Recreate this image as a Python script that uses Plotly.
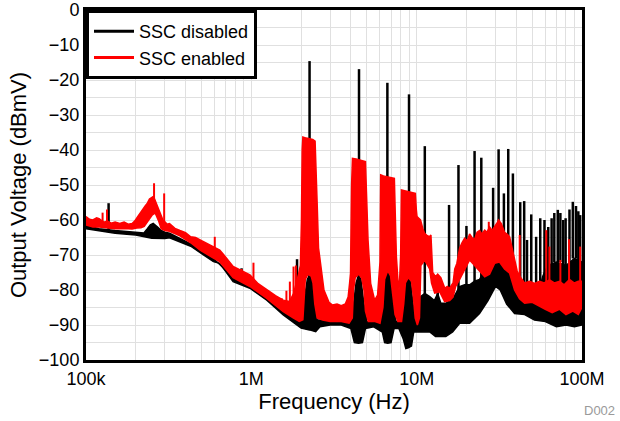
import plotly.graph_objects as go

# ---------------- data (frequencies in MHz, levels in dBmV) ----------------
red_up_f = [0.100,0.105,0.110,0.116,0.120,0.128,0.135,0.142,0.150,0.160,0.170,0.180,0.190,0.197,0.203,0.210,0.215,0.222,0.228,0.235,
            0.242,0.250,0.255,0.260,0.265,0.272,0.278,0.285,0.292,0.300,0.310,0.320,0.345,0.370,0.400,0.430,0.460,0.490,0.530,0.590,
            0.644,0.700,0.776,0.850,0.980,1.100,1.240,1.400,1.560,1.700,1.800,1.880,1.930,1.980,2.010,2.030,2.050,2.150,2.250,2.350,
            2.430,2.470,2.500,2.550,2.650,2.750,2.950,3.100,3.300,3.500,3.700,3.850,3.930,3.980,4.040,4.090,4.300,4.500,4.700,4.900,
            4.970,5.080,5.270,5.570,5.800,5.920,6.000,6.040,6.060,6.300,6.600,7.000,7.330,7.420,7.540,7.700,7.820,7.890,8.000,8.090,
            8.500,9.000,9.500,9.820,9.950,10.05,10.30,10.55,10.90,11.17,11.60,11.98,12.20,12.50,13.00,13.40,14.00,14.80,15.30,15.80,
            16.60,17.00,17.50,18.20,18.80,19.50,20.20,20.90,21.60,22.40,23.20,24.00,24.80,25.80,26.60,27.60,28.60,29.60,30.50,31.30,
            32.50,34.00,35.20,36.50,37.80,39.10,40.50,41.90,44.90,48.20,51.60,55.40,59.00,63.60,68.00,73.10,78.00,84.00,90.00,95.00,100.0]
red_up_db = [-59.0,-59.8,-60.0,-59.4,-59.6,-60.6,-60.3,-60.9,-60.6,-61.0,-60.6,-61.2,-61.0,-60.3,-59.4,-58.3,-57.5,-56.8,-56.0,-55.2,
             -54.0,-53.7,-53.3,-54.0,-55.0,-56.5,-57.8,-59.0,-60.0,-60.5,-61.2,-61.0,-62.4,-63.0,-63.6,-64.8,-65.0,-65.7,-66.5,-67.8,
             -68.6,-70.6,-73.3,-74.2,-75.7,-78.2,-80.0,-81.6,-82.9,-83.3,-81.0,-78.0,-75.5,-73.0,-60.0,-40.0,-36.3,-36.6,-36.8,-37.0,
             -37.5,-45.0,-55.0,-68.0,-75.0,-80.0,-83.5,-84.3,-84.0,-84.5,-84.0,-82.0,-78.0,-75.2,-50.0,-42.4,-42.6,-42.8,-43.0,-43.3,
             -52.0,-65.7,-78.1,-82.9,-81.5,-75.2,-72.0,-55.0,-47.1,-47.4,-47.6,-47.9,-48.1,-58.0,-70.5,-77.0,-80.0,-77.0,-70.0,-51.4,
             -51.7,-52.0,-52.2,-52.4,-57.0,-59.0,-59.5,-60.0,-62.5,-63.8,-64.5,-64.8,-64.3,-75.0,-76.2,-75.5,-76.5,-79.5,-79.0,-79.5,
             -78.0,-74.0,-72.4,-68.0,-66.5,-65.2,-66.0,-64.0,-65.0,-65.5,-63.5,-63.0,-64.0,-62.9,-63.5,-62.0,-63.0,-62.0,-61.0,-60.0,
             -61.0,-63.5,-64.0,-64.8,-68.0,-72.0,-74.5,-76.0,-78.0,-77.5,-78.1,-77.5,-78.0,-77.1,-78.0,-77.5,-78.5,-77.0,-78.0,-77.5,-77.5]

red_lo_f = [0.100,0.110,0.120,0.135,0.150,0.170,0.190,0.203,0.215,0.225,0.235,0.245,0.252,0.262,0.268,0.275,0.285,0.300,0.320,0.370,
            0.430,0.490,0.590,0.644,0.776,0.980,1.240,1.560,1.800,1.950,2.050,2.080,2.120,2.200,2.300,2.360,2.420,2.500,2.700,3.000,
            3.500,3.900,4.080,4.150,4.250,4.450,4.650,4.800,4.900,5.100,5.600,6.000,6.250,6.400,6.680,6.950,7.200,7.400,7.700,8.100,
            8.350,8.550,8.900,9.300,9.550,9.800,10.10,10.40,10.60,11.17,11.98,12.30,12.85,13.77,14.76,15.83,16.60,17.20,18.20,19.50,
            20.90,22.40,24.00,25.80,27.60,29.60,31.70,34.00,36.50,39.10,41.90,45.00,50.00,55.40,60.00,66.00,73.00,80.00,88.00,95.00,100.0]
red_lo_db = [-61.4,-62.0,-62.0,-62.3,-62.5,-62.4,-62.6,-62.3,-62.2,-61.8,-60.5,-59.2,-58.5,-58.0,-59.0,-60.3,-62.5,-63.0,-63.2,-64.5,
             -66.5,-68.6,-70.9,-71.9,-76.5,-79.0,-82.4,-86.2,-88.0,-89.0,-88.5,-82.0,-77.0,-75.5,-76.0,-78.0,-84.0,-88.0,-88.6,-89.0,
             -89.0,-89.5,-88.0,-80.0,-76.5,-75.5,-76.5,-80.0,-86.0,-89.0,-89.0,-89.5,-85.0,-77.0,-74.5,-76.0,-82.0,-87.0,-89.0,-89.0,
             -84.0,-78.0,-76.5,-77.5,-82.0,-88.0,-90.0,-88.0,-73.0,-71.5,-74.0,-78.0,-80.9,-80.5,-83.3,-83.0,-82.0,-79.0,-77.0,-74.3,
             -71.4,-73.0,-74.5,-76.2,-75.5,-72.4,-72.0,-74.0,-75.2,-80.0,-82.5,-83.8,-83.5,-84.5,-85.5,-86.5,-85.5,-87.0,-86.0,-87.0,-85.0]

black_up_f = [0.100,0.120,0.150,0.190,0.215,0.224,0.235,0.245,0.255,0.265,0.272,0.285,0.300,0.320,0.430,0.590,0.776,0.980,1.240,1.560,
              1.900,2.050,2.100,2.180,2.250,2.330,2.400,2.500,3.000,3.900,4.150,4.300,4.450,4.600,4.800,5.000,6.000,6.300,6.500,6.680,
              6.900,7.200,7.500,8.100,8.400,8.700,8.900,9.200,9.500,9.900,10.50,11.20,12.00,12.80,13.40,14.00,15.00,16.00,17.00,18.20,
              19.50,20.90,22.40,24.00,25.50,26.50,28.00,29.00,30.50,31.50,33.00,34.50,36.00,39.00,42.00,48.00,55.00,58.00,62.00,70.00,
              80.00,90.00,100.0]
black_up_db = [-61.5,-62.5,-63.0,-63.3,-63.5,-63.7,-62.5,-61.4,-61.0,-61.8,-62.1,-63.0,-63.5,-63.8,-66.8,-71.0,-76.3,-78.5,-82.0,-85.5,
               -88.0,-88.5,-82.0,-77.0,-75.7,-77.5,-83.0,-88.5,-89.0,-89.5,-84.0,-78.0,-75.7,-77.0,-84.0,-89.0,-89.5,-82.0,-76.0,-74.3,
               -76.0,-84.0,-89.0,-89.0,-82.0,-77.5,-76.2,-78.0,-84.0,-88.0,-82.0,-81.0,-81.9,-83.0,-81.0,-83.8,-83.8,-83.0,-81.5,-79.0,
               -78.5,-78.5,-77.5,-77.0,-74.5,-73.0,-71.0,-69.0,-68.0,-67.6,-68.0,-70.0,-72.0,-77.0,-80.0,-81.0,-80.0,-76.0,-73.0,-72.0,
               -73.0,-71.0,-72.0]

black_lo_f = [0.100,0.120,0.150,0.200,0.250,0.300,0.320,0.430,0.590,0.644,0.776,0.980,1.240,1.560,1.900,2.000,2.250,2.450,2.600,3.000,
              3.500,4.000,4.200,4.450,4.700,4.900,5.500,6.200,6.400,6.680,7.000,7.300,7.800,8.300,8.600,8.900,9.300,9.600,10.50,12.00,
              13.00,15.00,16.50,18.20,20.90,24.00,27.00,30.00,32.00,35.00,39.10,45.00,51.60,60.00,70.00,80.00,90.00,100.0]
black_lo_db = [-62.5,-63.0,-63.8,-64.3,-65.2,-65.3,-65.1,-67.5,-71.9,-72.4,-77.6,-79.5,-82.9,-87.1,-90.0,-90.9,-91.4,-91.9,-90.5,-90.0,
               -90.0,-91.0,-95.0,-95.2,-95.0,-91.0,-90.5,-92.0,-95.0,-95.2,-95.0,-91.0,-91.0,-94.0,-96.7,-96.5,-96.0,-92.0,-91.9,-92.0,
               -93.3,-93.3,-92.0,-89.5,-89.5,-86.7,-83.0,-79.0,-80.0,-84.0,-86.7,-87.0,-88.6,-89.0,-90.5,-90.0,-90.5,-90.0]

black_spike_f = [0.137,0.873,1.89,2.25,4.48,6.65,8.99,11.2,13.4,15.7,17.9,20.0,22.4,24.6,29.0,31.3,33.7,35.8,38.2,42.3,
                 44.7,46.5,49.3,52.8,55.9,59.3,62.5,65.5,68.0,71.4,74.0,77.0,79.6,84.0,88.0,92.0,95.0,97.5]
black_spike_top = [-55.2,-73.8,-71.2,-14.6,-16.9,-20.8,-24.1,-38.9,-80.0,-55.7,-44.3,-61.7,-40.3,-42.2,-50.8,-39.8,-52.4,-39.7,-46.7,-54.9,
                   -54.6,-65.7,-58.4,-64.8,-59.5,-60.0,-62.0,-59.5,-58.0,-57.1,-58.0,-60.0,-59.5,-57.0,-54.8,-56.0,-57.5,-58.6]
black_spike_base = [-63,-77,-88,-76,-76,-75,-77,-82,-88,-84,-82,-79,-78,-77,-70,-68,-69,-72,-76,-80,
                    -80,-80,-81,-80,-80,-76,-73,-73,-72,-72,-72,-73,-73,-72,-71,-71,-72,-72]

red_spike_f = [0.126,0.134,0.258,0.297,0.601,0.873,1.03,1.53,1.63,1.71,1.80,1.86,27.3,42.0,60.8,63.5,74.0,83.5,97.5]
red_spike_top = [-57.9,-57.0,-49.5,-52.4,-64.8,-74.0,-72.2,-82.4,-80.2,-77.6,-73.3,-73.0,-60.5,-64.3,-62.9,-67.6,-71.4,-65.5,-67.6]
red_spike_base = [-61,-61,-56,-61,-69,-75,-77,-85,-85,-85,-84,-84,-70,-80,-80,-80,-82,-80,-80]

x_tick_vals = [1e5, 1e6, 1e7, 1e8]
x_tick_text = ["100k", "1M", "10M", "100M"]
series_names = ["SSC disabled", "SSC enabled"]

BLACK = "#000000"
RED = "#ff0000"
HZ = 1e6


def hz(lst):
    return [v * HZ for v in lst]


def spikes(fs, tops, bases):
    xs, ys = [], []
    for f, t, b in zip(fs, tops, bases):
        xs += [f * HZ, f * HZ, None]
        ys += [b, t, None]
    return xs, ys


fig = go.Figure()


def add_series(up_f, up_db, lo_f, lo_db, sp_f, sp_top, sp_base, color, spw):
    fig.add_trace(go.Scatter(x=hz(up_f), y=up_db, mode="lines", line=dict(color=color, width=1.5),
                             showlegend=False, hoverinfo="skip"))
    fig.add_trace(go.Scatter(x=hz(lo_f), y=lo_db, mode="lines", line=dict(color=color, width=1.5),
                             fill="tonexty", fillcolor=color, showlegend=False, hoverinfo="skip"))
    sx, sy = spikes(sp_f, sp_top, sp_base)
    fig.add_trace(go.Scatter(x=sx, y=sy, mode="lines", line=dict(color=color, width=spw),
                             showlegend=False, hoverinfo="skip"))


add_series(black_up_f, black_up_db, black_lo_f, black_lo_db,
           black_spike_f, black_spike_top, black_spike_base, BLACK, 2.5)
add_series(red_up_f, red_up_db, red_lo_f, red_lo_db,
           red_spike_f, red_spike_top, red_spike_base, RED, 2)

# legend-only entries
for name, col in zip(series_names, [BLACK, RED]):
    fig.add_trace(go.Scatter(x=[None], y=[None], mode="lines", name=name,
                             line=dict(color=col, width=3)))

FONT = "Arial, Liberation Sans, sans-serif"
fig.update_layout(
    width=620, height=421,
    margin=dict(l=86, r=38, t=10, b=61),
    paper_bgcolor="white", plot_bgcolor="white",
    font=dict(family=FONT, size=18, color="black"),
    legend=dict(x=0, y=1, xanchor="left", yanchor="top", bgcolor="white",
                bordercolor="black", borderwidth=3, font=dict(size=18),
                traceorder="normal", tracegroupgap=0, itemwidth=40),
    showlegend=True,
    annotations=[dict(text="D002", xref="paper", yref="paper", x=1.0706, y=-0.1457,
                      xanchor="right", yanchor="middle", showarrow=False,
                      font=dict(size=13, color="#9a9a9a"))],
)
fig.update_xaxes(type="log", range=[5, 8], tickvals=x_tick_vals, ticktext=x_tick_text,
                 showline=True, linecolor="black", linewidth=3, mirror=True,
                 showgrid=True, gridcolor="#e0e0e0", gridwidth=1, ticks="",
                 minor=dict(dtick="D1", showgrid=True, gridcolor="#e0e0e0", ticks=""),
                 title=dict(text="Frequency (Hz)", standoff=2), zeroline=False,
                 automargin=False)
fig.update_yaxes(range=[-100, 0], dtick=10, tick0=0,
                 showline=True, linecolor="black", linewidth=3, mirror=True,
                 showgrid=True, gridcolor="#e0e0e0", gridwidth=1, ticks="",
                 minor=dict(dtick=5, showgrid=True, gridcolor="#e0e0e0", ticks=""),
                 title=dict(text="Output Voltage (dBmV)", standoff=7), zeroline=False,
                 automargin=False, ticklabeloverflow="allow")

# remove the default page margin so the figure sits at the window's top-left corner
fig.write_html("out.html", config={"displayModeBar": False},
               post_script="document.body.style.margin='0px';")
